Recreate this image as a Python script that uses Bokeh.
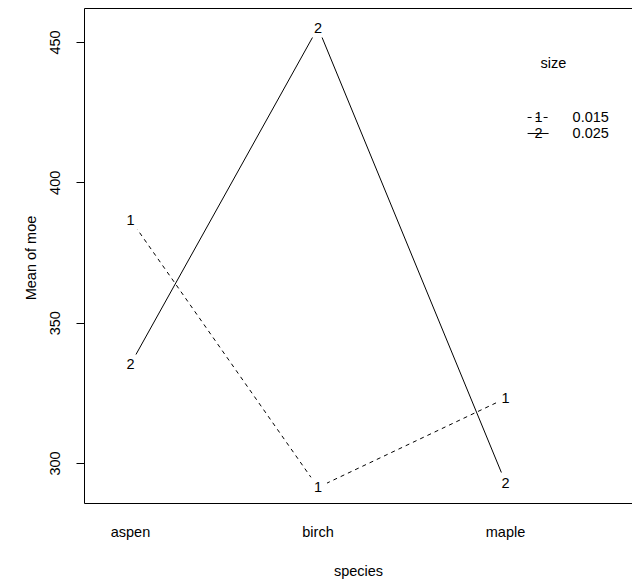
from bokeh.plotting import figure
from bokeh.models import (FixedTicker, LinearAxis, Range1d, ColumnDataSource)
from bokeh.core.properties import value
from bokeh.embed import file_html
from bokeh.resources import INLINE

# Interaction plot: mean modulus of elasticity by species and size
species = ["aspen", "birch", "maple"]
size_levels = ["0.015", "0.025"]
size_codes = ["1", "2"]
mean_size1 = [386.9, 291.5, 323.2]
mean_size2 = [335.3, 455.3, 293.2]
y_ticks = [300, 350, 400, 450]

FONT = "Liberation Sans"
FS = "14.5px"

x_pos = list(range(1, len(species) + 1))
x0, x1 = 0.755, 3.677
y0, y1 = 285.75, 462.1

p = figure(width=632, height=584, output_backend="svg", toolbar_location=None,
           x_range=Range1d(x0, x1), y_range=Range1d(y0, y1),
           min_border_left=84, min_border_right=0, min_border_top=8,
           min_border_bottom=81, x_axis_location=None, y_axis_location=None)
p.outline_line_color = None
p.grid.visible = False
p.background_fill_color = "white"
p.border_fill_color = "white"


def style_axis(ax):
    ax.major_tick_in = 0
    ax.minor_tick_out = 0
    ax.minor_tick_in = 0
    ax.major_label_text_font = FONT
    ax.major_label_text_font_size = FS
    ax.major_label_text_color = "black"
    ax.axis_label_text_font = FONT
    ax.axis_label_text_font_size = FS
    ax.axis_label_text_font_style = "normal"
    ax.axis_label_text_color = "black"
    ax.axis_line_color = "black"
    ax.major_tick_line_color = "black"


# left axis with rotated tick labels
yax = LinearAxis(ticker=FixedTicker(ticks=y_ticks), axis_label="Mean of  moe")
style_axis(yax)
yax.major_label_orientation = "vertical"
yax.major_tick_out = 8
yax.major_label_standoff = 16
yax.axis_label_standoff = 9
p.add_layout(yax, "left")

# bottom axis: species names, no tick marks
xax = LinearAxis(ticker=FixedTicker(ticks=x_pos), axis_label="species")
style_axis(xax)
xax.major_label_overrides = {i: s for i, s in zip(x_pos, species)}
xax.major_tick_out = 0
xax.major_label_standoff = 20
xax.axis_label_standoff = 20
p.add_layout(xax, "below")

# top border line
tax = LinearAxis(ticker=FixedTicker(ticks=[]))
style_axis(tax)
tax.major_tick_out = 0
tax.major_label_text_font_size = "0px"
p.add_layout(tax, "above")

# series lines
p.line(x_pos, mean_size1, line_color="black", line_width=1, line_dash="4 4")
p.line(x_pos, mean_size2, line_color="black", line_width=1)

# point labels with a small gap around them
for code, vals in zip(size_codes, [mean_size1, mean_size2]):
    src = ColumnDataSource(dict(x=x_pos, y=vals, t=[code] * len(vals)))
    p.text("x", "y", text="t", source=src, text_align="center",
           text_baseline="middle", text_font=value(FONT), text_font_size=FS,
           text_color="black", background_fill_color="white", padding=5)

# legend, placed in pixel terms within the frame
def dx(px):
    return x0 + (px - 84) / 187.5

def dy(py):
    return y1 - (py - 8) / 2.807

p.text([dx(540)], [dy(63)], text=["size"], text_align="left",
       text_baseline="middle", text_font=value(FONT), text_font_size=FS,
       text_color="black")
for i, (code, lab, dash) in enumerate(zip(size_codes, size_levels, ["4 4", "solid"])):
    yy = dy(117 + 16 * i)
    p.line([dx(527), dx(548)], [yy, yy], line_color="black", line_width=1,
           line_dash=dash)
    p.text([dx(538)], [yy], text=[code], text_align="center",
           text_baseline="middle", text_font=value(FONT), text_font_size=FS,
           text_color="black")
    p.text([dx(572)], [yy], text=[lab], text_align="left",
           text_baseline="middle", text_font=value(FONT), text_font_size=FS,
           text_color="black")

open("out.html", "w").write(file_html(p, INLINE))
